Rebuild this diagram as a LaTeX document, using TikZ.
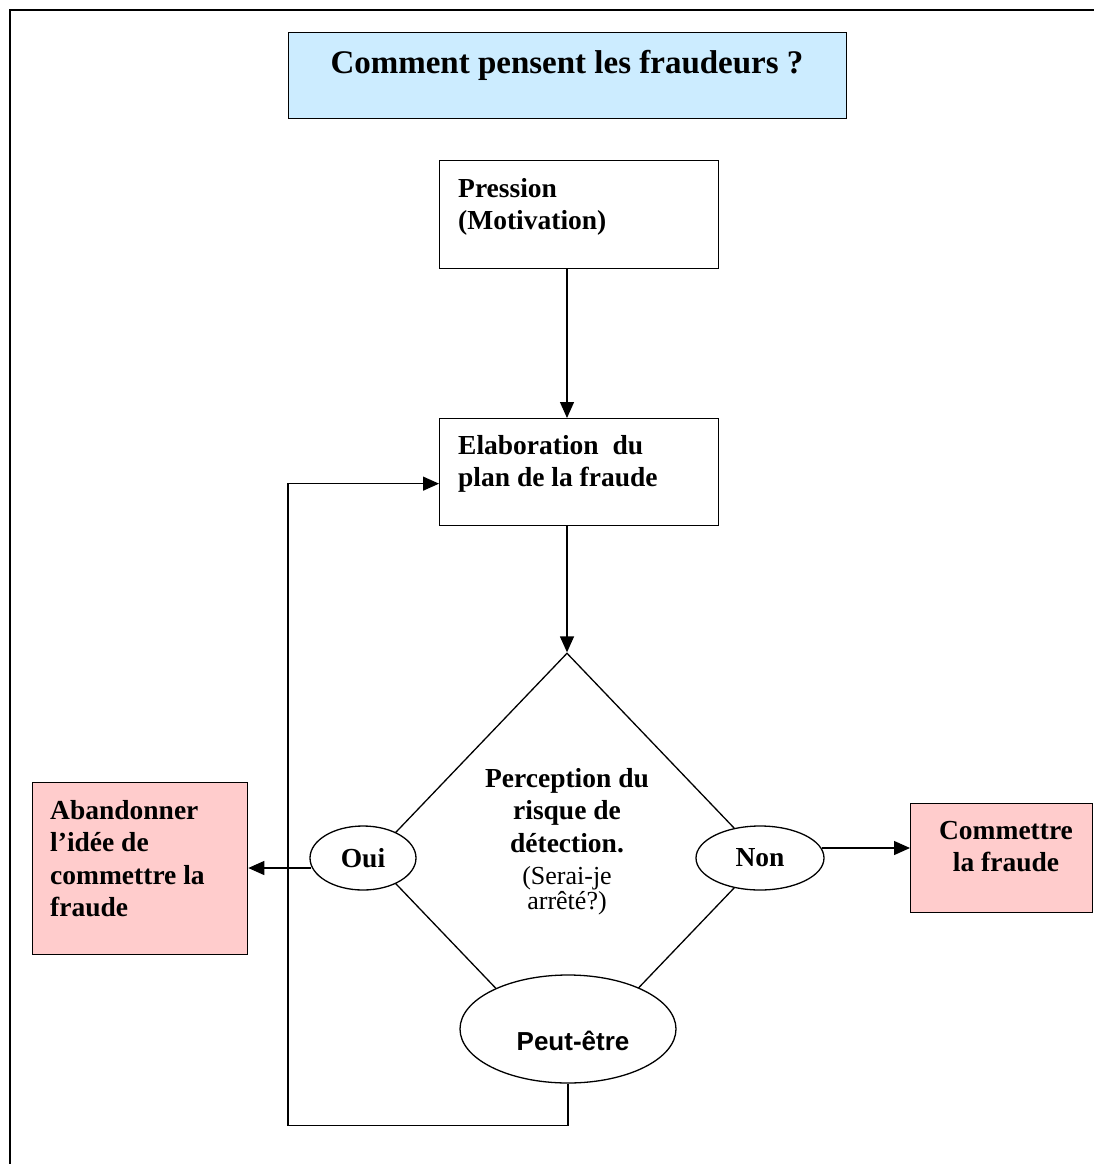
\documentclass[tikz,border=0pt]{standalone}
\usepackage{fontspec}
\setmainfont{Liberation Serif}
\setsansfont{Liberation Sans}
\usetikzlibrary{shapes.geometric,arrows.meta,calc}
\definecolor{titleblue}{HTML}{CCECFF}
\definecolor{pinkbox}{HTML}{FFCCCC}
\begin{document}
\begin{tikzpicture}[x=1pt,y=-1pt,
  rbox/.style={draw,line width=1.3pt,inner sep=0pt,anchor=north west},
  txt/.style={inner sep=0pt,font=\fontsize{27.5}{32.5}\selectfont\bfseries},
  ell/.style={draw,ellipse,line width=1.3pt,fill=white,inner sep=0pt,font=\fontsize{27.5}{32.5}\selectfont\bfseries},
  arr/.style={line width=1.3pt,-{Triangle[length=16pt,width=14pt]}},
  conn/.style={line width=1.3pt}]
\useasboundingbox (0,0) rectangle (1093,1164);
\fill[white] (0,0) rectangle (1093,1164);
% frame
\draw[line width=1.8pt] (10,1180) -- (10,10) -- (1110,10);
% title
\node[rbox,fill=titleblue,minimum width=558,minimum height=86] (title) at (288,32) {};
\node[inner sep=0pt,anchor=base,font=\fontsize{33}{38}\selectfont\bfseries] (titletxt) at (567,74) {Comment pensent les fraudeurs ?};
% pression
\node[rbox,minimum width=279,minimum height=108] (press) at (439,160) {};
\node[txt,anchor=north west,align=left] (presstxt) at (458,178) {Pression\\(Motivation)};
% elaboration
\node[rbox,minimum width=279,minimum height=107] (elab) at (439,418) {};
\node[txt,anchor=north west,align=left] (elabtxt) at (458,435) {Elaboration\ \ du\\plan de la fraude};
% abandon
\node[rbox,fill=pinkbox,minimum width=215,minimum height=172] (aband) at (32,782) {};
\node[txt,anchor=north west,align=left] (abandtxt) at (50,800) {Abandonner\\l’idée de\\commettre la\\fraude};
% commettre
\node[rbox,fill=pinkbox,minimum width=182,minimum height=109] (comm) at (910,803) {};
\node[txt,anchor=north,align=center] (commtxt) at (1006,821) {Commettre\\la fraude};
% diamond
\node[diamond,draw,line width=1.3pt,minimum width=392,minimum height=410,inner sep=0pt] (diam) at (567,858) {};
\node[txt,anchor=north,align=center] (diamtxt) at (567,768) {Perception du\\risque de\\détection.};
\node[inner sep=0pt,anchor=north,align=center,font=\fontsize{26}{25}\selectfont] (diamtxt2) at (567,866) {(Serai-je\\arrêté?)};
% ellipses
\node[ell,minimum width=106,minimum height=64] (oui) at (363,858) {Oui};
\node[ell,minimum width=128,minimum height=64] (non) at (760,858) {Non};
\node[ell,minimum width=216,minimum height=108] (peut) at (568,1029) {};
\node[inner sep=0pt,font=\fontsize{26}{30}\selectfont\sffamily\bfseries] (peuttxt) at (573,1041) {Peut-être};
% connectors
\draw[arr] (press.south -| diam.north) -- (elab.north -| diam.north);
\draw[arr] (elab.south -| diam.north) -- (diam.north);
\coordinate (ouiout) at ($(oui.west)+(2,10)$);
\draw[arr] (ouiout) -- (ouiout -| aband.east);
\coordinate (nonout) at ($(non.east)+(-3,-10)$);
\draw[arr] (nonout) -- (nonout -| comm.west);
\coordinate (loopin) at ($(elab.west)+(0,11.5)$);
\draw[arr] (peut.south) -- ++(0,42) -| ($(loopin)+(-151,0)$) -- (loopin);
\end{tikzpicture}
\end{document}
